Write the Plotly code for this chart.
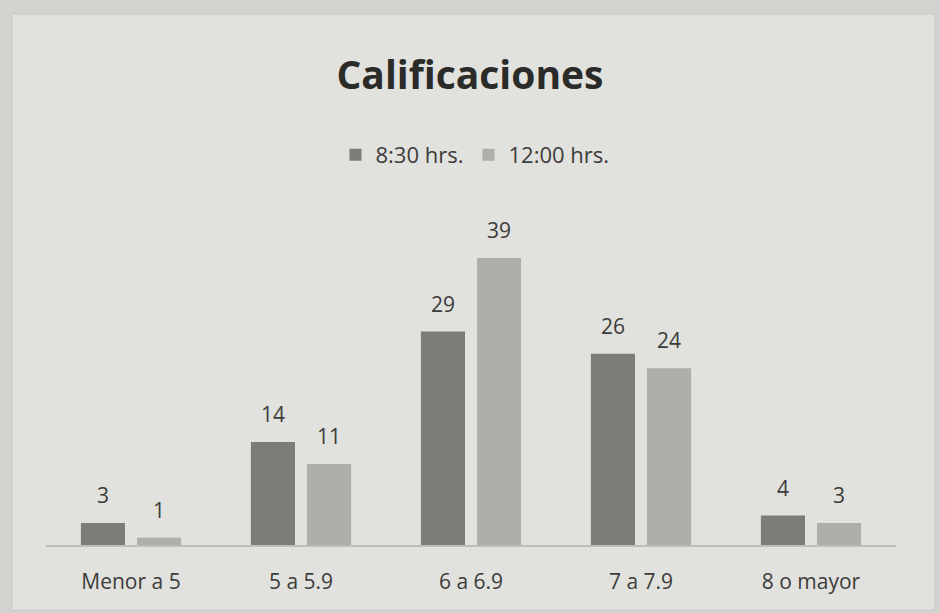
import plotly.graph_objects as go

categories = ["Menor a 5", "5 a 5.9", "6 a 6.9", "7 a 7.9", "8 o mayor"]
series_names = ["8:30 hrs.", "12:00 hrs."]
values_830 = [3, 14, 29, 26, 4]
values_1200 = [1, 11, 39, 24, 3]

L, R, T, B = 46, 44, 230, 68
W, H = 940, 613
pw = W - L - R
ph = H - T - B
BARGAP = 0.34

def px_x(x):
    return (x - L) / pw

def px_y(y):
    return (H - B - y) / ph

font = "'Open Sans', sans-serif"
txt = "#3c3c3a"

series = [(series_names[0], values_830, "#7c7c79"),
          (series_names[1], values_1200, "#aeaeab")]

fig = go.Figure()
slot = (1 - BARGAP) / len(series)
for i, (name, vals, col) in enumerate(series):
    fig.add_trace(go.Bar(x=list(range(len(categories))), y=vals, name=name,
                         marker=dict(color=col, line=dict(width=0))))
    off = (i - (len(series) - 1) / 2) * slot
    for j, v in enumerate(vals):
        fig.add_annotation(x=j + off, y=v, xref="x", yref="y", text=str(v),
                           showarrow=False, yanchor="middle", yshift=28,
                           font=dict(size=21, color=txt, family=font))

fig.add_shape(type="rect", xref="paper", yref="paper",
              x0=px_x(12), x1=px_x(935), y0=px_y(610), y1=px_y(14),
              fillcolor="#e1e1dd", line=dict(color="#c9c9c5", width=1), layer="below")

fig.update_layout(
    width=W, height=H,
    margin=dict(l=L, r=R, t=T, b=B),
    paper_bgcolor="#d2d2ce",
    plot_bgcolor="rgba(0,0,0,0)",
    barmode="group", bargap=BARGAP, bargroupgap=0.214,
    title=dict(text="<b>Calificaciones</b>", x=0.5, xanchor="center",
               y=1 - 75 / H, yanchor="middle",
               font=dict(size=39, color="#2b2b2a", family=font)),
    legend=dict(orientation="h", x=px_x(475), xanchor="center", y=px_y(155), yanchor="middle",
                font=dict(size=22, color=txt, family=font),
                bgcolor="rgba(0,0,0,0)", itemwidth=30),
    xaxis=dict(showline=True, linecolor="#bdbdb9", linewidth=1.5,
               ticks="outside", ticklen=17, tickcolor="rgba(0,0,0,0)",
               tickmode="array", tickvals=list(range(len(categories))), ticktext=categories,
               range=[-0.5, len(categories) - 0.5],
               tickfont=dict(size=21, color=txt, family=font), showgrid=False),
    yaxis=dict(range=[0, ph / 7.36], visible=False, showgrid=False, zeroline=False),
    showlegend=True,
)

fig.write_html("out.html", config={"displayModeBar": False},
               post_script="document.body.style.margin='0';document.body.style.overflow='hidden';")
